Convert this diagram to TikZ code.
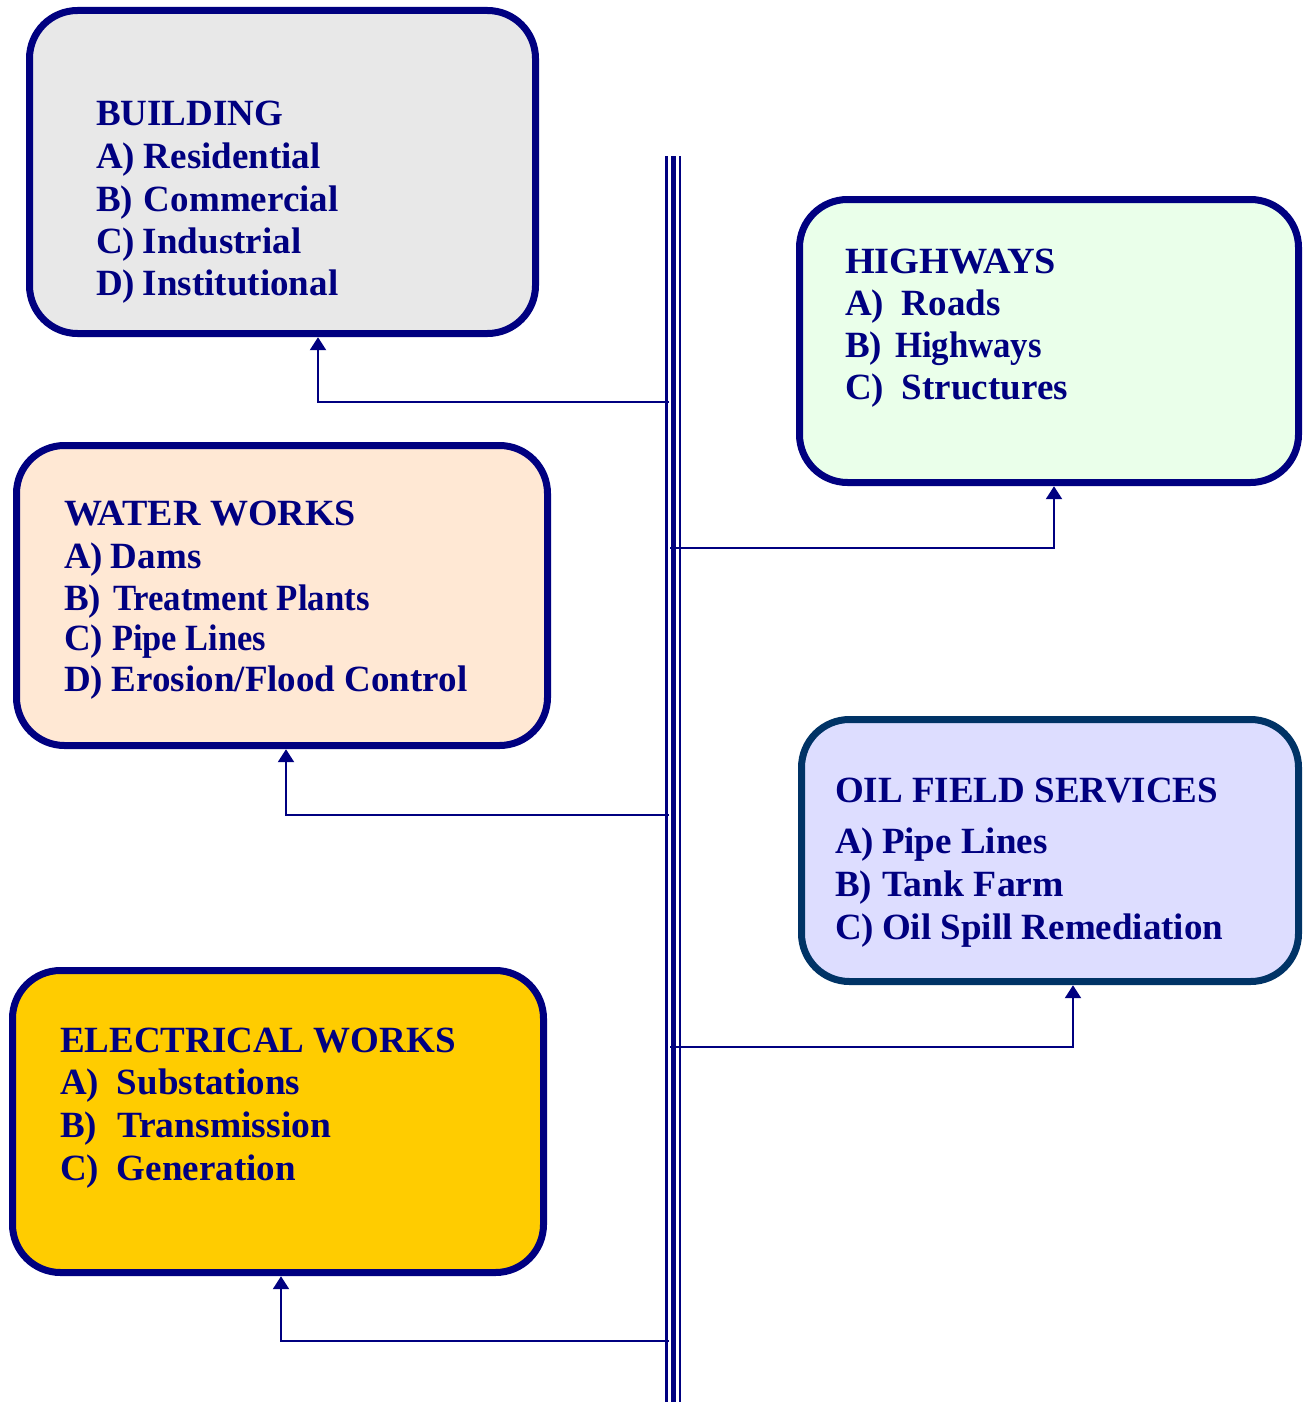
\documentclass[tikz,border=0pt]{standalone}
\usepackage{fontspec}
\setmainfont{Liberation Serif}
\usetikzlibrary{arrows.meta}
\definecolor{navyc}{RGB}{0,0,128}
\definecolor{oilborder}{RGB}{0,51,102}
\definecolor{bldfill}{RGB}{232,232,232}
\definecolor{hwyfill}{RGB}{234,255,234}
\definecolor{watfill}{RGB}{255,232,212}
\definecolor{oilfill}{RGB}{221,221,255}
\definecolor{elefill}{RGB}{255,204,0}
\tikzset{
  box/.style={draw=navyc, line width=7pt, rounded corners=48pt, inner sep=0pt, outer sep=3.5pt},
  txt/.style={anchor=base west, inner sep=0pt, outer sep=0pt, text=navyc, font=\fontsize{37}{42}\selectfont\bfseries},
  conn/.style={draw=navyc, line width=2.2pt, -{Triangle[length=13pt,width=16pt]}},
  bus/.style={draw=navyc},
}
\newcommand{\lab}[2]{\makebox[#1pt][l]{#2}}
\newcommand{\hsq}[2]{\scalebox{#1}[1]{#2}}
\begin{document}
\begin{tikzpicture}[x=1pt,y=-1pt]
\useasboundingbox (0,0) rectangle (1302,1402);
% boxes (border center paths)
\path[box, fill=bldfill] (29.5,10.5) rectangle (535.5,333.5);
\node[inner sep=0pt, minimum width=513pt, minimum height=330pt] (bld) at (282.5,172) {};
\path[box, fill=hwyfill] (799.5,199.5) rectangle (1298.5,482.5);
\node[inner sep=0pt, minimum width=506pt, minimum height=290pt] (hwy) at (1049,341) {};
\path[box, fill=watfill] (16.5,445.5) rectangle (547.5,745.5);
\node[inner sep=0pt, minimum width=538pt, minimum height=307pt] (wat) at (282,595.5) {};
\path[box, fill=oilfill, draw=oilborder] (801.5,719.5) rectangle (1298.5,981.5);
\node[inner sep=0pt, minimum width=504pt, minimum height=269pt] (oil) at (1050,850.5) {};
\path[box, fill=elefill] (12.5,970.5) rectangle (543.5,1272.5);
\node[inner sep=0pt, minimum width=538pt, minimum height=309pt] (ele) at (278,1121.5) {};
% texts
\node[txt] (bt0) at (96,125) {BUILDING};
\node[txt] (bt1) at (96,168) {\lab{48}{A)}Residential};
\node[txt] (bt2) at (96,211) {\lab{48}{B)}Commercial};
\node[txt] (bt3) at (96,253) {\lab{47}{C)}Industrial};
\node[txt] (bt4) at (96,295) {\lab{47}{D)}Institutional};
\node[txt] (ht0) at (845,273) {\hsq{1.034}{HIGHWAYS}};
\node[txt] (ht1) at (845,315) {\lab{57}{A)}Roads};
\node[txt] (ht2) at (845,357) {\lab{50}{B)}\hsq{0.94}{Highways}};
\node[txt] (ht3) at (845,399) {\lab{57}{C)}Structures};
\node[txt] (wt0) at (64,525) {\hsq{1.028}{WATER WORKS}};
\node[txt] (wt1) at (64,568) {\lab{47}{A)}Dams};
\node[txt] (wt2) at (64,610) {\lab{49}{B)}\hsq{0.94}{Treatment Plants}};
\node[txt] (wt3) at (64,650) {\lab{48}{C)}\hsq{0.93}{Pipe Lines}};
\node[txt] (wt4) at (64,691) {\lab{48}{D)}Erosion/Flood Control};
\node[txt] (ot0) at (835,802) {OIL FIELD SERVICES};
\node[txt] (ot1) at (835,853) {\lab{47}{A)}Pipe Lines};
\node[txt] (ot2) at (835,896) {\lab{47}{B)}\hsq{1.02}{Tank Farm}};
\node[txt] (ot3) at (835,939) {\lab{47}{C)}Oil Spill Remediation};
\node[txt] (et0) at (60,1052) {ELECTRICAL WORKS};
\node[txt] (et1) at (60,1094) {\lab{57}{A)}Substations};
\node[txt] (et2) at (60,1137) {\lab{57}{B)}\hsq{1.015}{Transmission}};
\node[txt] (et3) at (60,1180) {\lab{57}{C)}Generation};
% bus
\coordinate (bustop) at (673.3,156);
\coordinate (busbot) at (673.3,1402);
\draw[bus, line width=2.4pt] ([xshift=-6.8pt]bustop) -- ([xshift=-6.8pt]busbot);
\draw[bus, line width=5.4pt] (bustop) -- (busbot);
\draw[bus, line width=2.4pt] ([xshift=6.5pt]bustop) -- ([xshift=6.5pt]busbot);
% junctions
\coordinate (j1) at (669,402);
\coordinate (j2) at (670,548);
\coordinate (j3) at (669,815);
\coordinate (j4) at (670,1047);
\coordinate (j5) at (669,1341);
\coordinate (x1) at (318,0);
\coordinate (x2) at (1054,0);
\coordinate (x3) at (286,0);
\coordinate (x4) at (1073,0);
\coordinate (x5) at (281,0);
\draw[conn] (j1) -| (bld.south -| x1);
\draw[conn] (j2) -| (hwy.south -| x2);
\draw[conn] (j3) -| (wat.south -| x3);
\draw[conn] (j4) -| (oil.south -| x4);
\draw[conn] (j5) -| (ele.south -| x5);
\end{tikzpicture}
\end{document}
